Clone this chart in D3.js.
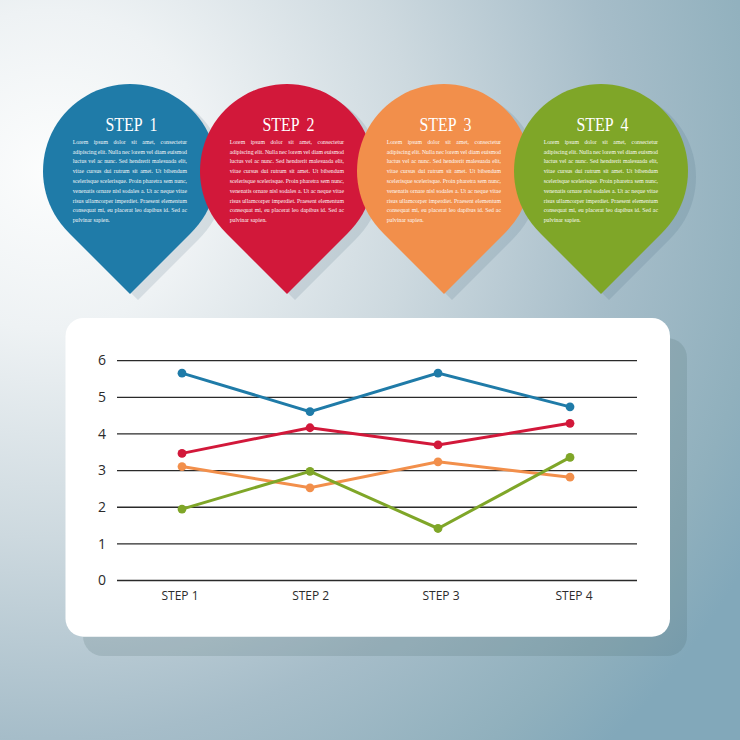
<!DOCTYPE html>
<html><head><meta charset="utf-8">
<script src="https://cdn.jsdelivr.net/npm/d3@7"></script>
<style>html,body{margin:0;padding:0;background:#fff}svg{display:block}</style>
</head><body><svg id="c" width="740" height="740"></svg>
<script>
const steps = ["STEP 1","STEP 2","STEP 3","STEP 4"];
const colors = ["#1f7ba8","#d2183a","#f28f4b","#7fa628"];
const blueValues = [5.66,4.61,5.66,4.74];
const redValues = [3.47,4.17,3.70,4.29];
const orangeValues = [3.11,2.53,3.24,2.82];
const greenValues = [1.95,2.98,1.42,3.36];
const yTicks = [0,1,2,3,4,5,6];
const bodyLines = [
 "Lorem ipsum dolor sit amet, consectetur",
 "adipiscing elit. Nulla nec lorem vel diam euismod",
 "luctus vel ac nunc. Sed hendrerit malesuada elit,",
 "vitae cursus dui rutrum sit amet. Ut bibendum",
 "scelerisque scelerisque. Proin pharetra sem nunc,",
 "venenatis ornare nisl sodales a. Ut ac neque vitae",
 "risus ullamcorper imperdiet. Praesent elementum",
 "consequat mi, eu placerat leo dapibus id. Sed ac",
 "pulvinar sapien."
];
const series = [blueValues,redValues,orangeValues,greenValues];
const svg = d3.select("#c");
const defs = svg.append("defs");
const bg = defs.append("radialGradient").attr("id","bg").attr("gradientUnits","userSpaceOnUse")
  .attr("cx",50).attr("cy",170).attr("r",800);
[[0,"#fcfdfd"],[.2,"#eef2f4"],[.46,"#cdd9df"],[.71,"#a6bdc9"],[.9,"#90b0bd"],[1,"#82a8ba"]].forEach(d=>bg.append("stop").attr("offset",d[0]).attr("stop-color",d[1]));
svg.append("rect").attr("width",740).attr("height",740).attr("fill","url(#bg)");

// pins: circle blended into straight sides that run to the tip
const pinX = d3.scalePoint().domain(steps).range([130,601]);
const r=87, cy=171, tipY=294;
const a=Math.PI/6, px=r*Math.cos(a), py=r*Math.sin(a);
const pinPath = `M0,${tipY-cy}L-60,63Q-69.6,53.4 ${-px},${py}A${r},${r} 0 1 1 ${px},${py}Q69.6,53.4 60,63Z`;
const pins = svg.append("g");
pins.selectAll("path.s").data(steps).join("path").attr("class","s").attr("d",pinPath)
  .attr("transform",d=>`translate(${pinX(d)+8},${cy+6})`).attr("fill","#3c5c70").attr("opacity",.14);
const pin = pins.selectAll("g.p").data(steps).join("g").attr("class","p").attr("transform",d=>`translate(${pinX(d)},${cy})`);
pin.append("path").attr("d",pinPath).attr("fill",(d,i)=>colors[i]);
pin.append("text").attr("x",1.5).attr("y",-40).attr("text-anchor","middle").attr("fill","#fff")
  .attr("font-family","Liberation Serif").attr("font-size",18).attr("word-spacing",4).attr("textLength",52).attr("lengthAdjust","spacingAndGlyphs").text(d=>d);
pin.each(function(){
  const g=d3.select(this);
  bodyLines.forEach((l,i)=>{
    const t=g.append("text").attr("x",-57.3).attr("y",-27.3+i*9.8).attr("fill","#fff").attr("opacity",.95)
      .attr("font-family","Liberation Serif").attr("font-size",5.8).text(l);
    if(i<bodyLines.length-1){
      const gaps=l.split(" ").length-1, w=t.node().getComputedTextLength();
      t.attr("word-spacing",(114.3-w)/gaps);
    }
  });
});

// card
const card=svg.append("g");
card.append("rect").attr("x",83).attr("y",338).attr("width",604).attr("height",318).attr("rx",20).attr("fill","#3c5c60").attr("opacity",.16);
card.append("rect").attr("x",65.5).attr("y",318).attr("width",604.5).attr("height",318.7).attr("rx",18).attr("fill","#fff");

// chart
const y=d3.scaleLinear().domain([0,6]).range([580.5,360.7]);
const x=d3.scaleLinear().domain([0,2,3]).range([182,438,570]);
const xLabel=d3.scaleLinear().domain([0,1,2,3]).range([180,310.7,441,574]);
const grid=svg.append("g");
grid.selectAll("line").data(yTicks).join("line").attr("x1",117).attr("x2",637)
  .attr("y1",d=>y(d)).attr("y2",d=>y(d)).attr("stroke","#2a2a2a").attr("stroke-width",1.3);
grid.selectAll("text").data(yTicks).join("text").attr("x",102).attr("y",d=>y(d)+4.7)
  .attr("text-anchor","middle").attr("font-family","Open Sans").attr("font-size",14).attr("fill","#2b2b2b").text(d=>d);
svg.append("g").selectAll("text").data(steps).join("text").attr("x",(d,i)=>xLabel(i)).attr("y",599.5)
  .attr("text-anchor","middle").attr("font-family","Open Sans").attr("font-size",12).attr("fill","#2b2b2b").text(d=>d);
const line=d3.line().x((d,i)=>x(i)).y(d=>y(d));
const sg=svg.append("g").selectAll("g").data(series).join("g");
sg.append("path").attr("d",d=>line(d)).attr("fill","none").attr("stroke",(d,i)=>colors[i]).attr("stroke-width",3);
sg.each(function(vals,si){
  d3.select(this).selectAll("circle").data(vals).join("circle").attr("cx",(d,i)=>x(i)).attr("cy",d=>y(d)).attr("r",4.4).attr("fill",colors[si]);
});
</script></body></html>
